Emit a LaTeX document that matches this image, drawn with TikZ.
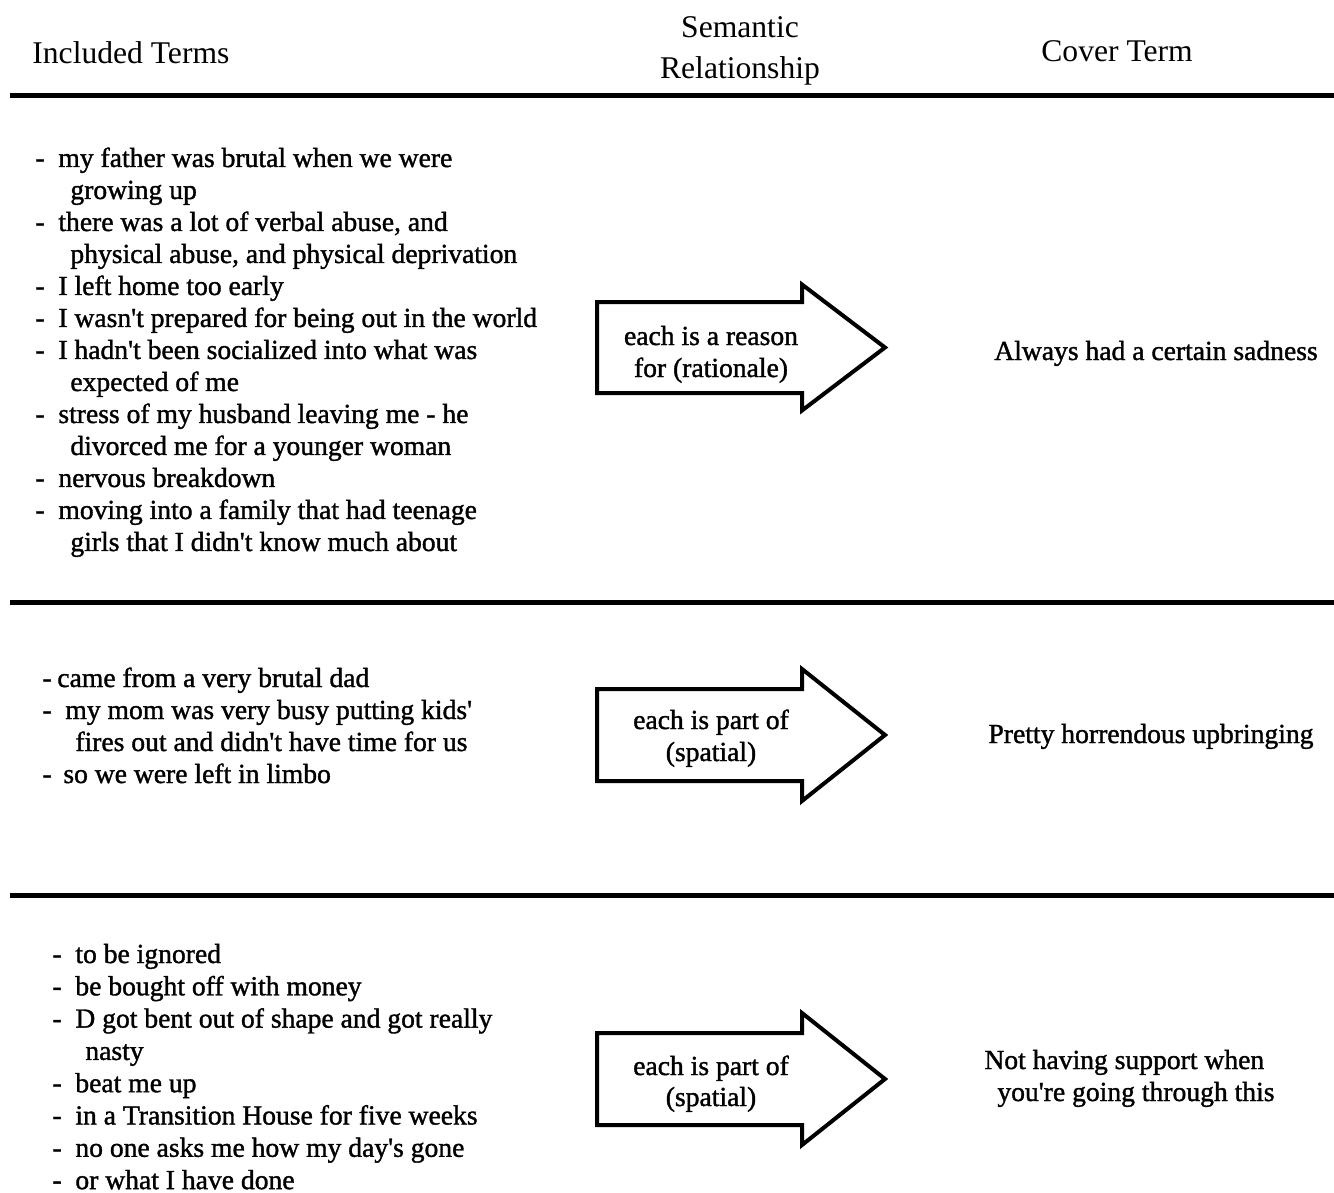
\documentclass[tikz,border=0pt]{standalone}
\usepackage{fontspec}
\setmainfont{Liberation Serif}
\newfontfamily\bodyfont{Liberation Serif}[FakeBold=1.3]
\newcommand{\ap}{\textquotesingle}
\begin{document}
\begin{tikzpicture}[x=0.5pt,y=-0.5pt,
  head/.style={inner sep=0pt, font=\fontsize{15.8pt}{20pt}\selectfont},
  body/.style={inner sep=0pt, anchor=base west, font=\bodyfont\fontsize{13.8pt}{16pt}\selectfont},
  rel/.style={inner sep=0pt, anchor=base, font=\bodyfont\fontsize{13.8pt}{16pt}\selectfont},
  rule/.style={line width=2.5pt},
  blockarrow/.style={line width=2pt, line join=miter}]
\useasboundingbox (0,0) rectangle (1334,1193);

% column headings
\node[head, anchor=base west] (hinc) at (32,64) {Included Terms};
\node[head, anchor=base] (hsem) at (740,38) {Semantic};
\node[head, anchor=base] (hrel) at (740,79) {Relationship};
\node[head, anchor=base west] (hcov) at (1041,62) {Cover Term};

% horizontal rules
\draw[rule] (10,96) -- (1334,96);
\draw[rule] (10,602.5) -- (1334,602.5);
\draw[rule] (10,895) -- (1334,895);

% block arrow: centre line y, shaft half-height, head half-height
\newcommand{\blockarrow}[3]{%
  \draw[blockarrow] (597,#1-#2) -- (802,#1-#2) -- (802,#1-#3) -- (885,#1)
    -- (802,#1+#3) -- (802,#1+#2) -- (597,#1+#2) -- cycle;}

% ---- first group ----
\node[body] (inc1) at (35,167) {\parbox[t]{300pt}{\baselineskip=16pt
\makebox[11.5pt][l]{-}my father was brutal when we were\\
\hspace*{17.5pt}growing up\\
\makebox[11.5pt][l]{-}there was a lot of verbal abuse, and\\
\hspace*{17.5pt}physical abuse, and physical deprivation\\
\makebox[11.5pt][l]{-}I left home too early\\
\makebox[11.5pt][l]{-}I wasn\ap t prepared for being out in the world\\
\makebox[11.5pt][l]{-}I hadn\ap t been socialized into what was\\
\hspace*{17.5pt}expected of me\\
\makebox[11.5pt][l]{-}stress of my husband leaving me - he\\
\hspace*{17.5pt}divorced me for a younger woman\\
\makebox[11.5pt][l]{-}nervous breakdown\\
\makebox[11.5pt][l]{-}moving into a family that had teenage\\
\hspace*{17.5pt}girls that I didn\ap t know much about}};
\blockarrow{347.5}{45.5}{63}
\node[rel] (rel1a) at (711,345) {each is a reason};
\node[rel] (rel1b) at (711,377) {for (rationale)};
\node[rel] (cov1) at (1156,360) {Always had a certain sadness};

% ---- second group ----
\node[body] (inc2) at (42,687) {\parbox[t]{300pt}{\baselineskip=16pt
\makebox[7.5pt][l]{-}came from a very brutal dad\\
\makebox[11.5pt][l]{-}my mom was very busy putting kids\ap\\
\hspace*{16.5pt}fires out and didn\ap t have time for us\\
\makebox[10.5pt][l]{-}so we were left in limbo}};
\blockarrow{735}{46}{66}
\node[rel] (rel2a) at (711,729) {each is part of};
\node[rel] (rel2b) at (711,761) {(spatial)};
\node[rel] (cov2) at (1151,743) {Pretty horrendous upbringing};

% ---- third group ----
\node[body] (inc3) at (52,963) {\parbox[t]{300pt}{\baselineskip=16.15pt
\makebox[11.5pt][l]{-}to be ignored\\
\makebox[11.5pt][l]{-}be bought off with money\\
\makebox[11.5pt][l]{-}D got bent out of shape and got really\\
\hspace*{16.5pt}nasty\\
\makebox[11.5pt][l]{-}beat me up\\
\makebox[11.5pt][l]{-}in a Transition House for five weeks\\
\makebox[11.5pt][l]{-}no one asks me how my day\ap s gone\\
\makebox[11.5pt][l]{-}or what I have done}};
\blockarrow{1079}{46}{66}
\node[rel] (rel3a) at (711,1075) {each is part of};
\node[rel] (rel3b) at (711,1106) {(spatial)};
\node[body] (cov3a) at (984,1069) {Not having support when};
\node[body] (cov3b) at (997,1101) {you\ap re going through this};
\end{tikzpicture}
\end{document}
